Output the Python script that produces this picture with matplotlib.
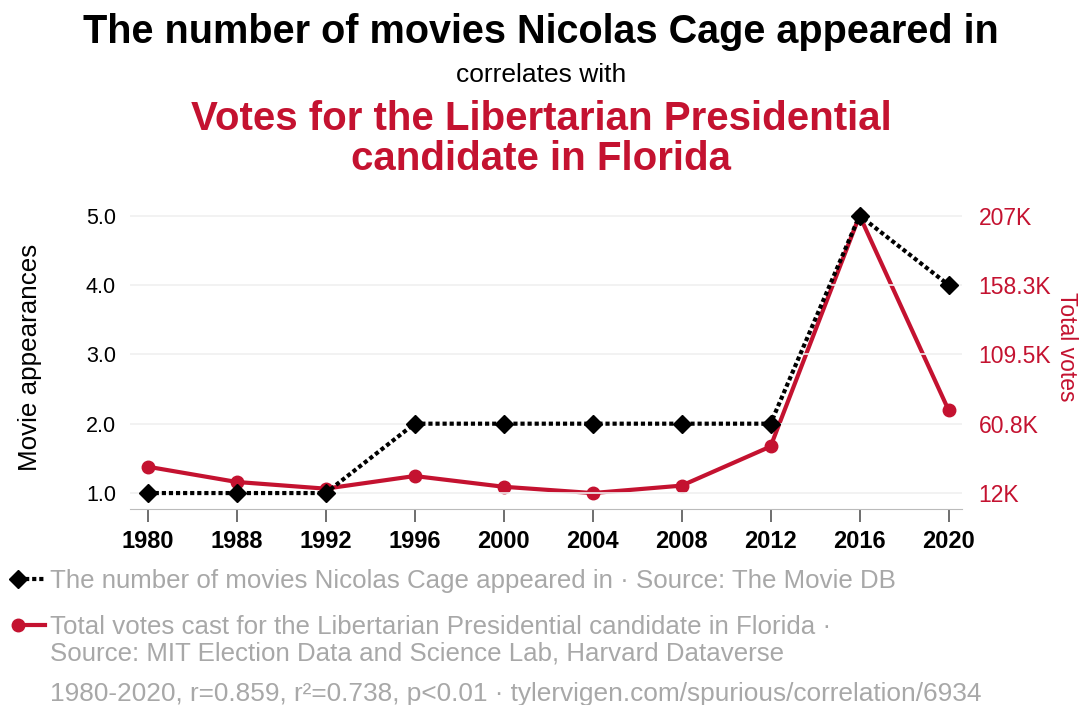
import numpy as np
import matplotlib.pyplot as plt
from matplotlib.lines import Line2D
from matplotlib.legend_handler import HandlerLine2D

plt.rcParams['font.family'] = ['Liberation Sans', 'DejaVu Sans']

# data
years = ['1980', '1988', '1992', '1996', '2000', '2004', '2008', '2012', '2016', '2020']
movies = [1, 1, 1, 2, 2, 2, 2, 2, 5, 4]
votes = [30524, 19796, 15079, 23965, 16415, 11996, 17218, 44726, 207043, 70324]

red = '#c41230'
gray = '#a8a8a8'


class MarkerLeft(HandlerLine2D):
    # legend handle with the marker at the left end of the line
    def create_artists(self, *args, **kwargs):
        artists = super().create_artists(*args, **kwargs)
        artists[0].set_markevery([0])
        return artists


fig = plt.figure(figsize=(10.82, 7.05), dpi=100)
ax = fig.add_axes([0.120, 0.278, 0.769, 0.431])
ax2 = ax.twinx()
# black series drawn above the red one
ax.set_zorder(ax2.get_zorder() + 1)
ax.patch.set_visible(False)

x = np.arange(len(years))
ax2.plot(x, votes, color=red, lw=3, marker='o', ms=9, zorder=3)
ax.plot(x, movies, color='black', lw=3, linestyle=(0, (1, 0.7)),
        marker='D', ms=9, zorder=4)

ylo, yhi = 0.77, 5.15
ax.set_ylim(ylo, yhi)
ax.set_xlim(-0.2, 9.15)
ax.set_yticks([1, 2, 3, 4, 5])
ax.set_yticklabels(['1.0', '2.0', '3.0', '4.0', '5.0'], fontsize=15.5)

# right axis aligned so that min/max votes sit on the 1 and 5 gridlines
vmin, vmax = min(votes), max(votes)
step = (vmax - vmin) / 4
ax2.set_ylim(vmin + (ylo - 1) * step, vmin + (yhi - 1) * step)
rticks = np.linspace(vmin, vmax, 5)
ax2.set_yticks(rticks)
ax2.set_yticklabels([f"{t/1000:.1f}".rstrip('0').rstrip('.') + 'K' for t in rticks],
                    fontsize=16.5, color=red)

ax.set_xticks(x)
ax.set_xticklabels(years, fontsize=17, fontweight='bold')
ax.tick_params(axis='x', length=9, width=1.2, color='#555555', pad=6)
ax.tick_params(axis='y', length=0, pad=10)
ax2.tick_params(axis='y', length=0, pad=12)

ax.grid(axis='y', color='#f0f0f0', lw=1.2)
for a in (ax, ax2):
    for s in ['top', 'left', 'right']:
        a.spines[s].set_visible(False)
    a.spines['bottom'].set_color('#bbbbbb')
ax2.spines['bottom'].set_visible(False)

ax.set_ylabel('Movie appearances', fontsize=18.7)
ax.yaxis.set_label_coords(-0.105, 0.5)
ax2.set_ylabel('Total votes', fontsize=16.5, color=red, rotation=270, va='center')
ax2.yaxis.set_label_coords(1.126, 0.535)

# titles
fig.text(0.5, 1 - 32 / 705, 'The number of movies Nicolas Cage appeared in',
         ha='center', va='center', fontsize=28.5, fontweight='bold')
fig.text(0.5, 1 - 75 / 705, 'correlates with', ha='center', va='center', fontsize=19)
fig.text(0.5, 1 - 139 / 705, 'Votes for the Libertarian Presidential\ncandidate in Florida',
         ha='center', va='center', fontsize=29, fontweight='bold', color=red,
         linespacing=1.05)

# legend
handles = [
    Line2D([], [], color='black', lw=3, linestyle=(0, (1, 0.7)), marker='D', ms=9),
    Line2D([], [], color=red, lw=3, marker='o', ms=9),
]
labels = [
    'The number of movies Nicolas Cage appeared in · Source: The Movie DB',
    'Total votes cast for the Libertarian Presidential candidate in Florida ·',
]
leg = fig.legend(handles, labels, loc='center left', bbox_to_anchor=(0.012, 1 - 604 / 705),
                 frameon=False, fontsize=18.6, labelcolor=gray, handlelength=1.05,
                 handletextpad=0.2, labelspacing=0.85, borderaxespad=0, borderpad=0.2,
                 handler_map={Line2D: MarkerLeft()})

fig.text(0.0462, 1 - 653 / 705,
         'Source: MIT Election Data and Science Lab, Harvard Dataverse',
         ha='left', va='center', fontsize=18.6, color=gray)
fig.text(0.0462, 1 - 694 / 705,
         '1980-2020, r=0.859, r²=0.738, p<0.01 · tylervigen.com/spurious/correlation/6934',
         ha='left', va='center', fontsize=18.9, color=gray)

plt.savefig('out.png', dpi=100)
